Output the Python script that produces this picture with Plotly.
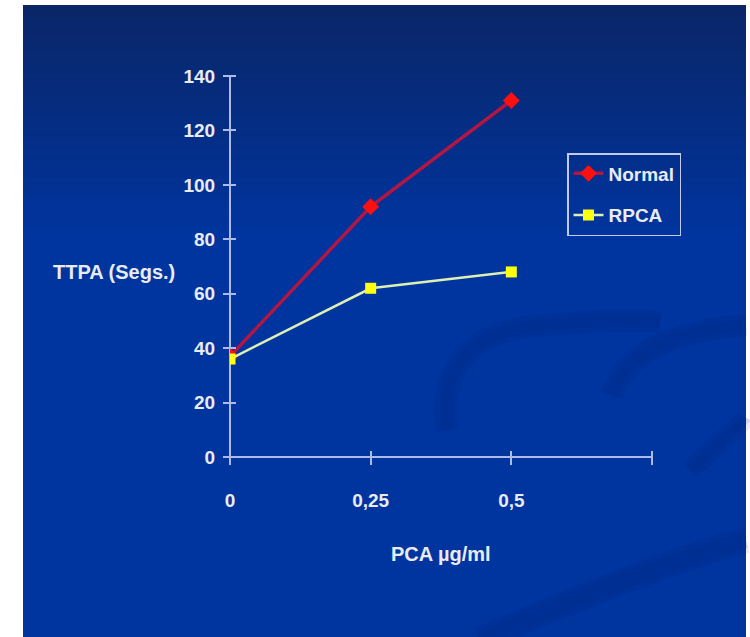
import plotly.graph_objects as go

# Clotting time (TTPA, seconds) versus PCA concentration
dose = [0, 0.25, 0.5]
normal = [37, 92, 131]
rpca = [36, 62, 68]

x_tickvals = [0, 0.25, 0.5, 0.75]
x_ticktext = ["0", "0,25", "0,5", ""]
y_tickvals = [0, 20, 40, 60, 80, 100, 120, 140]

W, H = 750, 637
L, R, T, B = 230, 98, 76, 180
PW, PH = W - L - R, H - T - B

FONT = "Liberation Sans, Arial, sans-serif"
TXT = "#e9ebf3"
AXC = "#aebbe6"
TICK_HALF = 7  # tick marks cross the axis line, this much on each side


def px(xp):
    return (xp - L) / PW


def py(yp):
    return (H - B - yp) / PH


shapes = []
# slide background: white frame, then vertical blue gradient
shapes.append(dict(type="rect", xref="paper", yref="paper", x0=px(23), x1=px(746),
                   y0=py(5), y1=py(H + 2), fillcolor="rgb(0,52,158)", line_width=0,
                   layer="below"))
top, stop = (10, 38, 104), (0, 52, 158)
n = 40
span = 230
for i in range(n):
    t = i / (n - 1)
    c = tuple(round(a + (b - a) * t) for a, b in zip(top, stop))
    y0 = 5 + span * i / n
    y1 = 5 + span * (i + 1) / n + 1
    shapes.append(dict(type="rect", xref="paper", yref="paper", x0=px(23), x1=px(746),
                       y0=py(y0), y1=py(y1), fillcolor="rgb(%d,%d,%d)" % c,
                       line_width=0, layer="below"))


def path(pts):
    s = "M %f,%f" % (px(pts[0][0]), py(pts[0][1]))
    for i in range(1, len(pts) - 1, 2):
        s += " Q %f,%f %f,%f" % (px(pts[i][0]), py(pts[i][1]),
                                 px(pts[i + 1][0]), py(pts[i + 1][1]))
    return s


# faint decorative swirls of the slide template (soft: wide faint + narrow core)
for pts, w in [
    ([(447, 430), (436, 345), (520, 328), (600, 318), (660, 322)], 12),
    ([(612, 395), (630, 335), (746, 325)], 12),
    ([(480, 640), (640, 570), (746, 540)], 16),
    ([(690, 470), (745, 420), (746, 418)], 10),
]:
    shapes.append(dict(type="path", xref="paper", yref="paper", path=path(pts),
                       line=dict(color="rgba(0,30,105,0.08)", width=w + 10),
                       layer="below"))
    shapes.append(dict(type="path", xref="paper", yref="paper", path=path(pts),
                       line=dict(color="rgba(0,30,105,0.10)", width=w),
                       layer="below"))

fig = go.Figure()
fig.add_trace(go.Scatter(
    x=dose, y=normal, name="Normal", mode="lines+markers", legendgroup="a",
    line=dict(color="rgb(178,22,66)", width=3.5),
    marker=dict(symbol="diamond", size=13, color="#ff1010",
                line=dict(width=0)),
))
fig.add_trace(go.Scatter(
    x=dose, y=rpca, name="RPCA", mode="lines+markers", legendgroup="b",
    line=dict(color="#dcf0b4", width=2.5),
    marker=dict(symbol="square", size=11, color="#ffff10",
                line=dict(width=0)),
))

# The visible axis lines are the zero lines; the axes themselves are shifted
# inward by half a tick so their outside ticks straddle those lines.
fig.update_layout(
    width=W, height=H,
    margin=dict(l=L, r=R, t=T, b=B),
    paper_bgcolor="white",
    plot_bgcolor="rgba(0,0,0,0)",
    shapes=shapes,
    xaxis=dict(range=[0, 0.75], tickmode="array", tickvals=x_tickvals,
               ticktext=x_ticktext, ticks="outside", ticklen=2 * TICK_HALF,
               tickcolor=AXC, tickwidth=2,
               anchor="free", position=TICK_HALF / PH,
               showline=False, showgrid=False,
               zeroline=True, zerolinecolor=AXC, zerolinewidth=2,
               ticklabelstandoff=19,
               tickfont=dict(family=FONT, size=19, color=TXT, weight="bold")),
    yaxis=dict(range=[0, 140], tickmode="array", tickvals=y_tickvals,
               ticks="outside", ticklen=2 * TICK_HALF - 1,
               tickcolor=AXC, tickwidth=2,
               anchor="free", position=(TICK_HALF - 1) / PW,
               showline=False, showgrid=False,
               zeroline=True, zerolinecolor=AXC, zerolinewidth=2,
               ticklabelstandoff=4,
               tickfont=dict(family=FONT, size=19, color=TXT, weight="bold")),
    showlegend=True,
    legend=dict(x=px(567), y=py(153), xanchor="left", yanchor="top",
                bgcolor="rgba(0,0,0,0)", bordercolor="#c0cbee", borderwidth=1.5,
                traceorder="grouped", tracegroupgap=14,
                font=dict(family=FONT, size=19, color=TXT, weight="bold")),
    annotations=[
        dict(text="TTPA (Segs.)", xref="paper", yref="paper", x=px(177), y=py(272),
             xanchor="right", yanchor="middle", showarrow=False,
             font=dict(family=FONT, size=20, color=TXT, weight="bold")),
        dict(text="PCA µg/ml", xref="paper", yref="paper", x=px(441), y=py(554),
             xanchor="center", yanchor="middle", showarrow=False,
             font=dict(family=FONT, size=20, color=TXT, weight="bold")),
    ],
)

fig.write_html("out.html")
